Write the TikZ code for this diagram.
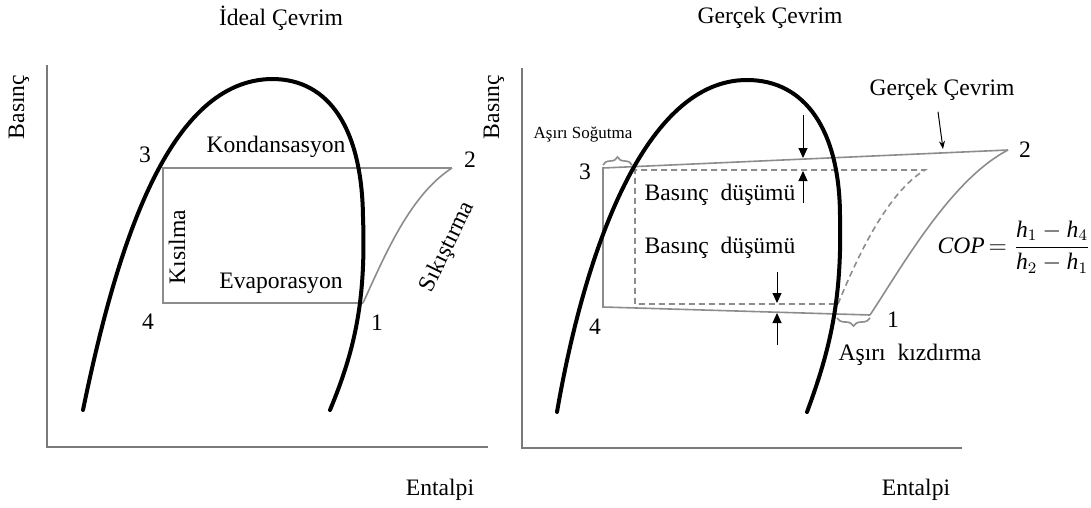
\documentclass[tikz,border=0pt]{standalone}
\usepackage{fontspec}
\setmainfont{Liberation Serif}
\usetikzlibrary{arrows.meta, decorations.pathreplacing}
\definecolor{cyclegray}{HTML}{8C8C8C}
\definecolor{axisgray}{HTML}{7A7A7A}
\tikzset{
	domeline/.style={line width=2pt, line cap=round, line join=round}
}
\tikzset{
	cycleline/.style={cyclegray, line width=0.8pt}
}
\tikzset{
	dashline/.style={cyclegray, line width=0.8pt, dash pattern=on 3pt off 2pt}
}
\tikzset{
	axisline/.style={axisgray, line width=1.1pt}
}
\tikzset{
	droparrow/.style={line width=0.5pt, -{Triangle[length=5pt,width=4.5pt]}}
}
\tikzset{
	smalltext/.style={font=\fontsize{8.5}{10}\selectfont}
}

\begin{document}
\begin{tikzpicture}[x=0.5pt, y=-0.5pt, font=\fontsize{11.8}{13}\selectfont]
	\useasboundingbox (0,0) rectangle (1091,508);

	% ideal cycle
	\begin{scope}
		\coordinate (oL) at (47,447);
		\coordinate (yL) at (47,65);
		\coordinate (xL) at (488,447);
		\draw[axisline] (yL) -- (oL) -- (xL);

		\node[rotate=90] (pL) at (19,107) {Basınç};
		\node (hL) at (440,490) {Entalpi};
		\node (tL) at (281,18) {İdeal Çevrim};

		\coordinate (a1) at (363,303);
		\coordinate (a2) at (452,168);
		\coordinate (a3) at (163,168);
		\coordinate (a4) at (163,303);

		\draw[cycleline] (a1) .. controls (385,255) and (410,195) .. (a2);
		\draw[cycleline] (a2) -- (a3) -- (a4) -- (a1);

		% saturation dome
		\coordinate (dLa) at (83,410);
		\coordinate (dLb) at (272,79);
		\coordinate (dLc) at (363,217);
		\coordinate (dLd) at (330,410);
		\draw[domeline] (dLa) .. controls (118,240) and (170,80) .. (dLb)
			.. controls (330,79) and (362,130) .. (dLc)
			.. controls (366,300) and (355,350) .. (dLd);

		\node (n1) at (377,323) {1};
		\node (n2) at (470,160) {2};
		\node (n3) at (145,155) {3};
		\node (n4) at (148,322) {4};

		\node (kond) at (276,147) {Kondansasyon};
		\node (evap) at (281,283) {Evaporasyon};
		\node[rotate=90] (kis) at (177,247) {Kısılma};
		\node[rotate=64] (sik) at (448,247) {Sıkıştırma};
	\end{scope}

	% real cycle
	\begin{scope}
		\coordinate (oR) at (522,448);
		\coordinate (yR) at (522,68);
		\coordinate (xR) at (962,448);
		\draw[axisline] (yR) -- (oR) -- (xR);

		\node[rotate=90] (pR) at (494,107) {Basınç};
		\node (hR) at (916,490) {Entalpi};
		\node (tR) at (770,18) {Gerçek Çevrim};

		\coordinate (b1) at (870,315);
		\coordinate (b2) at (1008,150);
		\coordinate (b3) at (603,168);
		\coordinate (b4) at (603,307);

		\coordinate (c1) at (838,304);
		\coordinate (c2) at (925,170);
		\coordinate (c3) at (635,170);
		\coordinate (c4) at (635,304);

		\draw[dashline] (c1) .. controls (858,255) and (888,192) .. (c2) -- (c3) -- (c4) -- (c1);
		\draw[cycleline] (b1) .. controls (900,270) and (950,180) .. (b2);
		\draw[cycleline] (b2) -- (b3) -- (b4) -- (b1);

		% saturation dome
		\coordinate (dRa) at (557,412);
		\coordinate (dRb) at (747,80);
		\coordinate (dRc) at (840,217);
		\coordinate (dRd) at (807,412);
		\draw[domeline] (dRa) .. controls (585,250) and (645,80) .. (dRb)
			.. controls (805,80) and (840,130) .. (dRc)
			.. controls (842,300) and (830,350) .. (dRd);

		% subcooling and superheat
		\coordinate (sc1) at (603,165);
		\coordinate (sc2) at (632,165);
		\draw[cycleline, decorate, decoration={brace, amplitude=4pt}] (sc1) -- (sc2);
		\coordinate (sh1) at (837,318);
		\coordinate (sh2) at (870,318);
		\draw[cycleline, decorate, decoration={brace, mirror, amplitude=4pt}] (sh1) -- (sh2);

		% pressure drops
		\coordinate (d1s) at (803,115);
		\coordinate (d1e) at (803,158);
		\coordinate (u1s) at (803,203);
		\coordinate (u1e) at (803,171);
		\coordinate (d2s) at (777,272);
		\coordinate (d2e) at (777,303);
		\coordinate (u2s) at (777,345);
		\coordinate (u2e) at (777,313);
		\draw[droparrow] (d1s) -- (d1e);
		\draw[droparrow] (u1s) -- (u1e);
		\draw[droparrow] (d2s) -- (d2e);
		\draw[droparrow] (u2s) -- (u2e);

		\node (m1) at (893,320) {1};
		\node (m2) at (1025,150) {2};
		\node (m3) at (585,172) {3};
		\node (m4) at (595,327) {4};

		\node[smalltext] (subc) at (583,135) {Aşırı Soğutma};
		\node (dp1) at (720,195) {Basınç~ düşümü};
		\node (dp2) at (720,248) {Basınç~ düşümü};
		\node (suph) at (910,355) {Aşırı~ kızdırma};
		\node (real) at (942,90) {Gerçek Çevrim};
		\coordinate (rp) at (943,149);
		\draw[line width=0.5pt, -{Stealth[length=4pt,width=3pt]}] (real.south) ++(-4,4) -- (rp);

		\node (cop) at (1014,247) {\textit{COP}\,$=\displaystyle\frac{\textit{h}_1-\textit{h}_4}{\textit{h}_2-\textit{h}_1}$};
	\end{scope}

\end{tikzpicture}
\end{document}
